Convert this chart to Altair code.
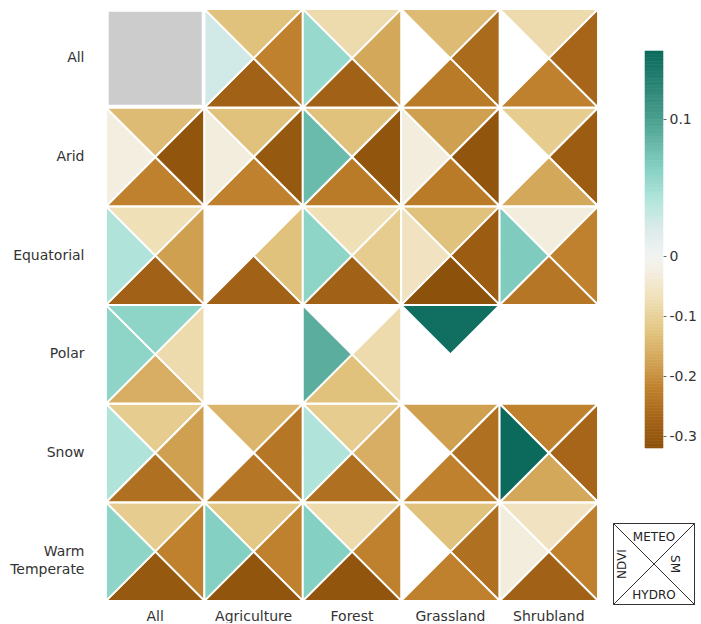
import altair as alt
import pandas as pd

# Row / column categories of the grid
CLIMATES = ["All", "Arid", "Equatorial", "Polar", "Snow", "Warm Temperate"]
LANDCOVERS = ["All", "Agriculture", "Forest", "Grassland", "Shrubland"]
COMPONENTS = ["METEO", "SM", "HYDRO", "NDVI"]

# Correlation per climate (rows) x land cover (columns); None = no data
METEO = [
    [None, -0.13, -0.08, -0.14, -0.08],
    [-0.14, -0.13, -0.13, -0.18, -0.11],
    [-0.07, None, -0.07, -0.13, -0.03],
    [0.06, None, None, 0.145, None],
    [-0.11, -0.15, -0.11, -0.18, -0.22],
    [-0.11, -0.12, -0.08, -0.13, -0.06],
]
SM = [
    [None, -0.22, -0.17, -0.26, -0.27],
    [-0.31, -0.30, -0.31, -0.31, -0.29],
    [-0.18, -0.13, -0.11, -0.29, -0.22],
    [-0.08, None, -0.08, None, None],
    [-0.18, -0.24, -0.16, -0.25, -0.27],
    [-0.22, -0.22, -0.22, -0.25, -0.22],
]
HYDRO = [
    [None, -0.28, -0.28, -0.23, -0.22],
    [-0.22, -0.22, -0.23, -0.23, -0.17],
    [-0.28, -0.28, -0.28, -0.32, -0.24],
    [-0.16, None, -0.13, None, None],
    [-0.25, -0.24, -0.25, -0.22, -0.17],
    [-0.30, -0.31, -0.31, -0.22, -0.28],
]
NDVI = [
    [None, 0.025, 0.055, None, None],
    [-0.025, -0.03, 0.08, -0.03, None],
    [0.042, None, 0.06, -0.06, 0.068],
    [0.06, None, 0.09, None, None],
    [0.042, None, 0.042, None, 0.15],
    [0.06, 0.065, 0.065, None, -0.03],
]
# Cells shown as a plain grey square
GREY_CELLS = [("All", "All")]

# Colour bar range
CBAR_MIN, CBAR_MID, CBAR_MAX = -0.32, 0.0, 0.15
CBAR_TICKS = [-0.3, -0.2, -0.1, 0.0, 0.1]

rows = []
for comp, grid in zip(COMPONENTS, [METEO, SM, HYDRO, NDVI]):
    for i, clim in enumerate(CLIMATES):
        for j, lc in enumerate(LANDCOVERS):
            v = grid[i][j]
            if v is not None:
                rows.append({"climate": clim, "landcover": lc, "component": comp, "value": v})
df = pd.DataFrame(rows)
grey_df = pd.DataFrame([{"climate": c, "landcover": l} for c, l in GREY_CELLS])
legend_df = pd.DataFrame({"component": COMPONENTS})

# Triangle glyphs in the unit square [-1, 1] (y grows downward)
TRIANGLES = [
    "M-1,-1L1,-1L0,0Z",   # top    -> METEO
    "M1,-1L1,1L0,0Z",     # right  -> SM
    "M-1,1L1,1L0,0Z",     # bottom -> HYDRO
    "M-1,-1L-1,1L0,0Z",   # left   -> NDVI
]
SQUARE = "M-1,-1L1,-1L1,1L-1,1Z"

FONT = "DejaVu Sans"
W, H = 492, 592
CELL = 98.5

color_scale = alt.Scale(
    type="linear",
    interpolate="rgb",
    clamp=True,
    domain=[-0.32, -0.27, -0.22, -0.17, -0.12, -0.07, -0.02, 0.0,
            0.02, 0.04, 0.065, 0.1, 0.15],
    range=["#8c510a", "#a66519", "#bf812d", "#d4a85a", "#e3c885", "#f0e0b8",
           "#f4f0e6", "#f2f2f2", "#dcebea", "#b4e6dc", "#84d0c2", "#4a9f8e",
           "#0b6a5c"],
)

x_enc = alt.X(
    "landcover:N",
    scale=alt.Scale(type="band", domain=LANDCOVERS, paddingInner=0, paddingOuter=0),
    axis=alt.Axis(title=None, ticks=False, domain=False, labelAngle=0,
                  labelPadding=8, labelFontSize=14, labelColor="#333",
                  labelFont=FONT, grid=False),
)
y_enc = alt.Y(
    "climate:N",
    scale=alt.Scale(type="band", domain=CLIMATES, paddingInner=0, paddingOuter=0),
    axis=alt.Axis(title=None, ticks=False, domain=False, labelPadding=22,
                  labelFontSize=14, labelColor="#333", labelFont=FONT,
                  labelLineHeight=18, grid=False,
                  labelExpr="datum.label == 'Warm Temperate' ? "
                            "['Warm\u00a0\u00a0\u00a0\u00a0', 'Temperate'] : datum.label"),
)

grey = alt.Chart(grey_df).mark_point(
    filled=True, shape=SQUARE, size=93 ** 2, fill="#cccccc", opacity=1, strokeWidth=0
).encode(x=x_enc, y=y_enc)

tri = alt.Chart(df).mark_point(
    filled=True, size=CELL ** 2, opacity=1, stroke="white", strokeWidth=2,
    strokeJoin="bevel",
).encode(
    x=x_enc,
    y=y_enc,
    shape=alt.Shape("component:N",
                    scale=alt.Scale(domain=COMPONENTS, range=TRIANGLES),
                    legend=None),
    color=alt.Color("value:Q", scale=color_scale, legend=None),
)

main = alt.layer(grey, tri).properties(width=W, height=H)

# Colour bar: a stack of thin rects on a piecewise-linear position scale
STEP = 0.0025
cbar = alt.Chart(alt.sequence(CBAR_MIN, CBAR_MAX - STEP / 2, STEP, as_="v")).transform_calculate(
    v2=f"min(datum.v + {STEP}, {CBAR_MAX})", vm=f"datum.v + {STEP / 2}"
).mark_rect(strokeWidth=0.6).encode(
    y=alt.Y("v:Q",
            scale=alt.Scale(domain=[CBAR_MIN, CBAR_MID, CBAR_MAX],
                            range=[439, 247, 42], nice=False, zero=False),
            axis=alt.Axis(orient="right", values=CBAR_TICKS, title=None,
                          grid=False, domain=False, tickSize=3,
                          tickColor="#666", labelPadding=3, labelFontSize=14,
                          labelColor="#333", labelFont=FONT,
                          labelExpr="toString(round(datum.value * 10) / 10)")),
    y2="v2:Q",
    color=alt.Color("vm:Q", scale=color_scale, legend=None),
    stroke=alt.Stroke("vm:Q", scale=color_scale, legend=None),
).properties(width=18, height=439)

# Key explaining which triangle holds which component
key_shape = alt.Chart(legend_df).mark_point(
    filled=False, size=81 ** 2, stroke="#333", strokeWidth=1, opacity=1
).encode(
    shape=alt.Shape("component:N",
                    scale=alt.Scale(domain=COMPONENTS, range=TRIANGLES),
                    legend=None),
)

def key_label(name, **kw):
    return alt.Chart(legend_df).transform_filter(
        alt.datum.component == name
    ).mark_text(font=FONT, fontSize=12, color="#222", **kw).encode(text="component:N")

key = alt.layer(
    key_shape,
    key_label("METEO", dy=-27),
    key_label("SM", dy=-21, angle=90),
    key_label("HYDRO", dy=31),
    key_label("NDVI", dy=-32, angle=270),
).properties(width=82, height=80)

right = alt.vconcat(cbar, key, spacing=76, bounds="flush", center=True)

chart = alt.hconcat(main, right, spacing=11).properties(
    padding={"left": 9, "top": 8, "right": 0, "bottom": 0}
).configure(font=FONT).configure_view(stroke=None)

chart.save("out.html", embed_options={"renderer": "svg", "actions": False})
